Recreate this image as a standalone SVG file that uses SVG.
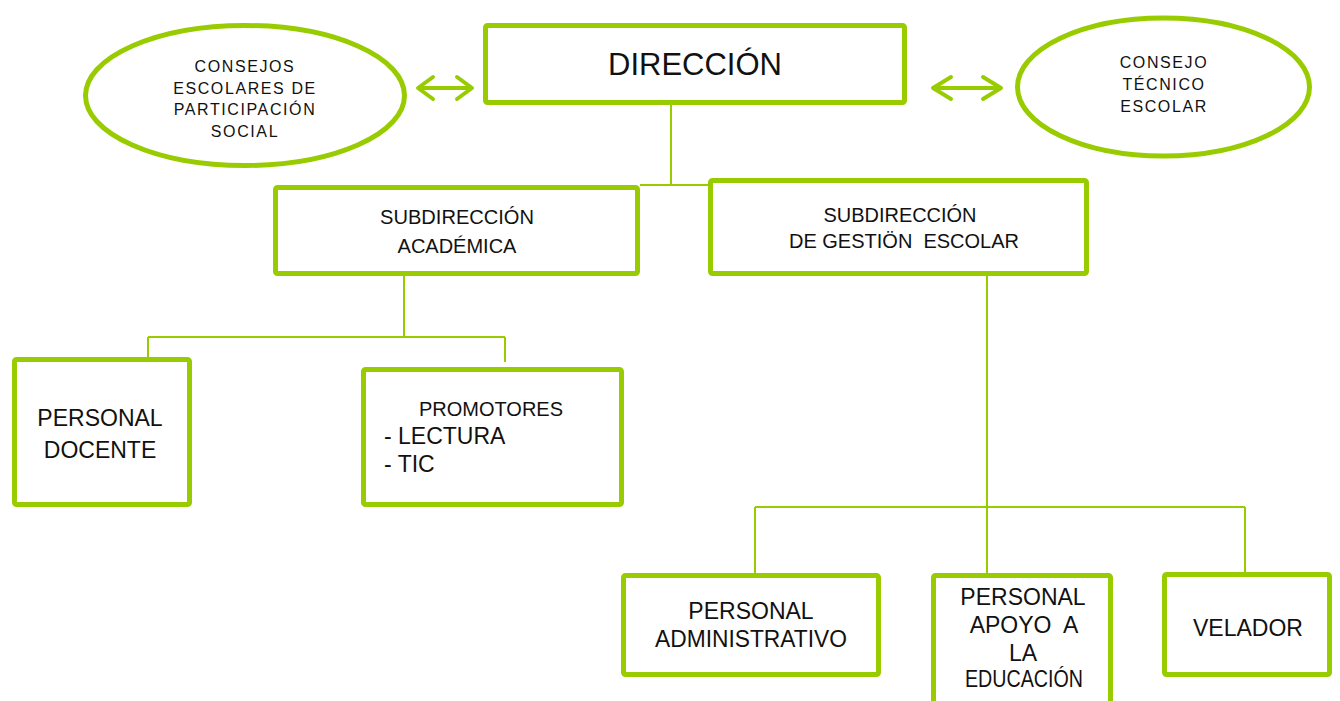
<svg xmlns="http://www.w3.org/2000/svg" width="1340" height="701" viewBox="0 0 1340 701">
<style>
.box{fill:#ffffff;stroke:#99cc00;stroke-width:5;stroke-linejoin:round}
.ell{fill:#ffffff;stroke:#99cc00;stroke-width:5}
.ln{fill:none;stroke:#99cc00;stroke-width:2}
.arr{fill:none;stroke:#99cc00;stroke-width:4;stroke-linecap:round;stroke-linejoin:round}
text{font-family:"Liberation Sans",Arial,sans-serif;fill:#111111;text-anchor:middle}
.s16{font-size:16px;letter-spacing:1.6px}
.s20{font-size:20px}
.s23{font-size:23px}
.s31{font-size:31px}
</style>
<rect width="1340" height="701" fill="#ffffff"/>
<g id="connectors">
<path class="ln" d="M671 105V185M640 185H708"/>
<path class="ln" d="M404 276V337M148 337H505M148 337V361M505 337V362"/>
<path class="ln" d="M987 276V573M755 507H1245M755 507V573M1245 507V573"/>
<path class="arr" d="M419 88H471M433 77L418 88L433 99M457 77L472 88L457 99"/>
<path class="arr" d="M934 88H1000M951 77L933 88L951 99M983 77L1001 88L983 99"/>
</g>
<g id="consejos-escolares">
<ellipse class="ell" cx="245" cy="95.5" rx="159.5" ry="70"/>
<text class="s16" x="245" y="72">CONSEJOS</text>
<text class="s16" x="245" y="93.5">ESCOLARES DE</text>
<text class="s16" x="245" y="115">PARTICIPACIÓN</text>
<text class="s16" x="245" y="136.5">SOCIAL</text>
</g>
<g id="consejo-tecnico">
<ellipse class="ell" cx="1163.5" cy="87" rx="146" ry="69"/>
<text class="s16" x="1164" y="68">CONSEJO</text>
<text class="s16" x="1164" y="90">TÉCNICO</text>
<text class="s16" x="1164" y="112">ESCOLAR</text>
</g>
<g id="direccion">
<rect class="box" x="485.5" y="25.5" width="419" height="77" rx="2"/>
<text class="s31" x="695" y="75">DIRECCIÓN</text>
</g>
<g id="sub-academica">
<rect class="box" x="275.5" y="187.5" width="362" height="86" rx="2"/>
<text class="s20" x="457" y="224" textLength="154" lengthAdjust="spacingAndGlyphs">SUBDIRECCIÓN</text>
<text class="s20" x="457" y="253">ACADÉMICA</text>
</g>
<g id="sub-gestion">
<rect class="box" x="710.5" y="180.5" width="376" height="93" rx="2"/>
<text class="s20" x="900" y="222" textLength="153" lengthAdjust="spacingAndGlyphs">SUBDIRECCIÓN</text>
<text class="s20" x="904" y="248" xml:space="preserve" style="white-space:pre">DE GESTIÖN  ESCOLAR</text>
</g>
<g id="personal-docente">
<rect class="box" x="14.5" y="359.5" width="175" height="145" rx="2"/>
<text class="s23" x="100" y="426">PERSONAL</text>
<text class="s23" x="100" y="458">DOCENTE</text>
</g>
<g id="promotores">
<rect class="box" x="363.5" y="369.5" width="258" height="135" rx="2"/>
<text class="s20" x="491" y="416">PROMOTORES</text>
<text class="s23" x="384" y="444" style="text-anchor:start">- LECTURA</text>
<text class="s23" x="384" y="472" style="text-anchor:start">- TIC</text>
</g>
<g id="personal-administrativo">
<rect class="box" x="623.5" y="575.5" width="255" height="99" rx="2"/>
<text class="s23" x="751" y="619">PERSONAL</text>
<text class="s23" x="751" y="647" textLength="192" lengthAdjust="spacingAndGlyphs">ADMINISTRATIVO</text>
</g>
<g id="personal-apoyo">
<rect class="box" x="933.5" y="575.5" width="177" height="140" rx="2"/>
<text class="s23" x="1023" y="605">PERSONAL</text>
<text class="s23" x="1024" y="633" xml:space="preserve" style="white-space:pre">APOYO  A</text>
<text class="s23" x="1023" y="661">LA</text>
<text class="s23" x="1024" y="687" textLength="118" lengthAdjust="spacingAndGlyphs">EDUCACIÓN</text>
</g>
<g id="velador">
<rect class="box" x="1164.5" y="574.5" width="165" height="100" rx="2"/>
<text class="s23" x="1248" y="636">VELADOR</text>
</g>
</svg>
